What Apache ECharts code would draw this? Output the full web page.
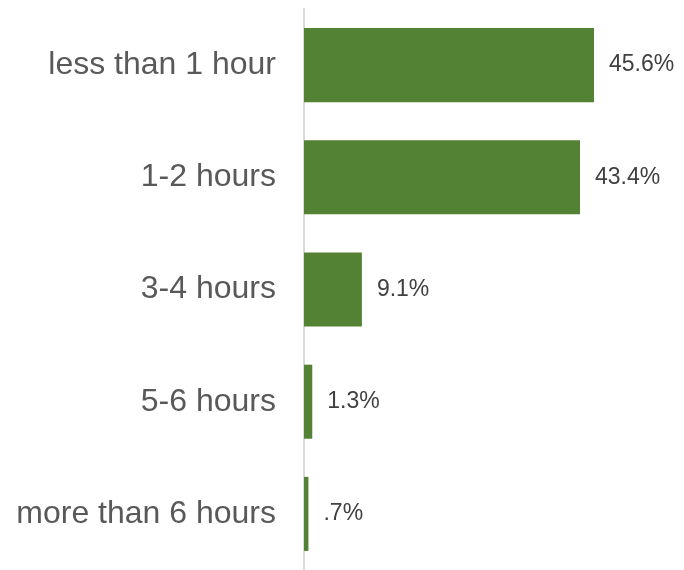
<!DOCTYPE html>
<html>
<head>
<meta charset="utf-8">
<script src="https://cdn.jsdelivr.net/npm/echarts@6/dist/echarts.min.js"></script>
<style>
  html, body { margin: 0; padding: 0; background: #ffffff; }
  #chart { width: 684px; height: 570px; }
</style>
</head>
<body>
<div id="chart"></div>
<script>
// Daily time spent, share of respondents (%)
const categories = ['less than 1 hour', '1-2 hours', '3-4 hours', '5-6 hours', 'more than 6 hours'];
const shares = [45.6, 43.4, 9.1, 1.3, 0.7];
const shareLabels = ['45.6%', '43.4%', '9.1%', '1.3%', '.7%'];

const chart = echarts.init(document.getElementById('chart'));
chart.setOption({
  animation: false,
  grid: { left: 304, top: 9, width: 318, height: 562, containLabel: false },
  xAxis: {
    type: 'value', min: 0, max: 50,
    show: false
  },
  yAxis: {
    type: 'category',
    data: categories,
    inverse: true,
    axisLine: { show: true, lineStyle: { color: '#d9d9d9', width: 2 } },
    axisTick: { show: false },
    axisLabel: {
      margin: 28,
      color: '#595959',
      fontFamily: 'Liberation Sans, Arial, sans-serif',
      fontSize: 32,
      padding: [4, 0, 0, 0]
    }
  },
  series: [{
    type: 'bar',
    data: shares,
    barCategoryGap: '34%',
    itemStyle: { color: '#548235' },
    label: {
      show: true,
      position: 'right',
      distance: 15,
      color: '#404040',
      fontFamily: 'Liberation Sans, Arial, sans-serif',
      fontSize: 23,
      padding: [4, 0, 0, 0],
      formatter: p => shareLabels[p.dataIndex]
    }
  }]
});
</script>
</body>
</html>
